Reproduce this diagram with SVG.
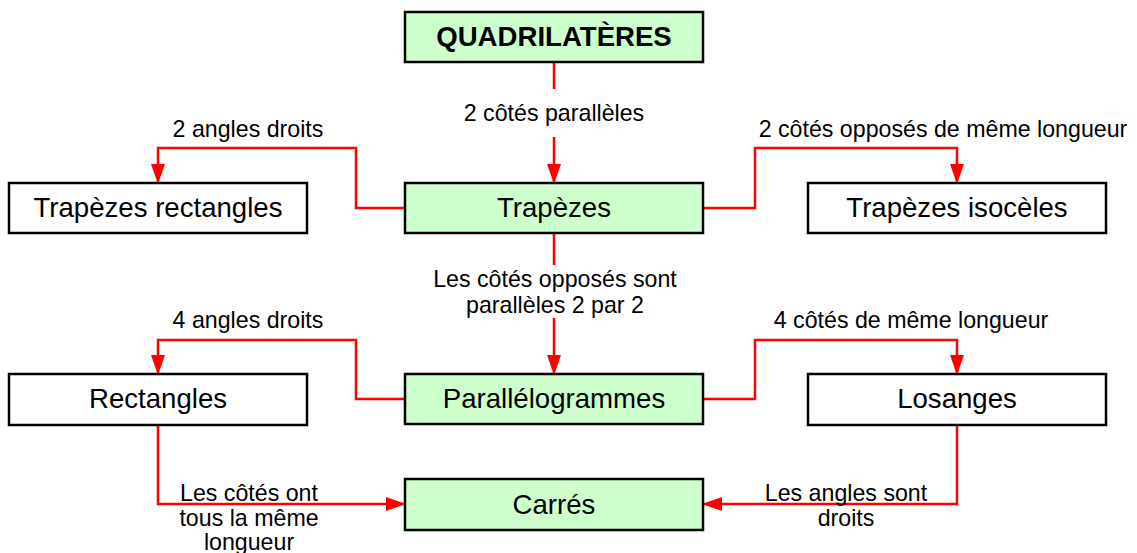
<svg xmlns="http://www.w3.org/2000/svg" width="1137" height="553" viewBox="0 0 1137 553">
<style>
.box{stroke:#000;stroke-width:2.5}
.g{fill:#CCFFCC}
.w{fill:#FFFFFF}
.bt{font-family:"Liberation Sans",Arial,sans-serif;font-size:27.6px;fill:#000;text-anchor:middle}
.b{font-weight:bold}
.lt{font-family:"Liberation Sans",Arial,sans-serif;font-size:23.2px;fill:#000;text-anchor:middle}
.c{fill:none;stroke:#FF0000;stroke-width:2.5;marker-end:url(#ah)}
</style>
<defs>
<marker id="ah" markerUnits="userSpaceOnUse" markerWidth="20" markerHeight="14" refX="19" refY="7" orient="auto">
<path d="M0,0 L20,7 L0,14 z" fill="#FF0000"/>
</marker>
</defs>
<rect width="1137" height="553" fill="#FFFFFF"/>
<g id="connectors">
<path class="c" d="M554,62 V89 M554,137 V183"/>
<path class="c" d="M405,208 H356 V148 H158 V183"/>
<path class="c" d="M703,208 H755 V148 H957 V183"/>
<path class="c" d="M554,233 V265 M554,318 V374"/>
<path class="c" d="M405,399 H356 V340 H158 V374"/>
<path class="c" d="M703,399 H755 V340 H957 V374"/>
<path class="c" d="M158,425 V504 H405"/>
<path class="c" d="M957,425 V504 H703"/>
</g>
<g id="labels">
<text class="lt" x="554" y="121">2 côtés parallèles</text>
<text class="lt" x="248" y="137">2 angles droits</text>
<text class="lt" x="943" y="137">2 côtés opposés de même longueur</text>
<text class="lt" x="555" y="287">Les côtés opposés sont</text>
<text class="lt" x="555" y="313">parallèles 2 par 2</text>
<text class="lt" x="248" y="328">4 angles droits</text>
<text class="lt" x="911" y="328">4 côtés de même longueur</text>
<text class="lt" x="249" y="501">Les côtés ont</text>
<text class="lt" x="249" y="526">tous la même</text>
<text class="lt" x="249" y="550">longueur</text>
<text class="lt" x="846" y="501">Les angles sont</text>
<text class="lt" x="846" y="526">droits</text>
</g>
<g id="quadrilateres">
<rect class="box g" x="405" y="12" width="298" height="50"/>
<text class="bt b" x="554" y="46">QUADRILATÈRES</text>
</g>
<g id="trapezes">
<rect class="box g" x="405" y="183" width="298" height="50"/>
<text class="bt" x="554" y="217">Trapèzes</text>
</g>
<g id="trapezes-rectangles">
<rect class="box w" x="9" y="183" width="298" height="50"/>
<text class="bt" x="158" y="217">Trapèzes rectangles</text>
</g>
<g id="trapezes-isoceles">
<rect class="box w" x="808" y="183" width="298" height="50"/>
<text class="bt" x="957" y="217">Trapèzes isocèles</text>
</g>
<g id="parallelogrammes">
<rect class="box g" x="405" y="374" width="298" height="50"/>
<text class="bt" x="554" y="408">Parallélogrammes</text>
</g>
<g id="rectangles">
<rect class="box w" x="9" y="374" width="298" height="51"/>
<text class="bt" x="158" y="408">Rectangles</text>
</g>
<g id="losanges">
<rect class="box w" x="808" y="374" width="298" height="51"/>
<text class="bt" x="957" y="408">Losanges</text>
</g>
<g id="carres">
<rect class="box g" x="405" y="479" width="298" height="51"/>
<text class="bt" x="554" y="514">Carrés</text>
</g>
</svg>
